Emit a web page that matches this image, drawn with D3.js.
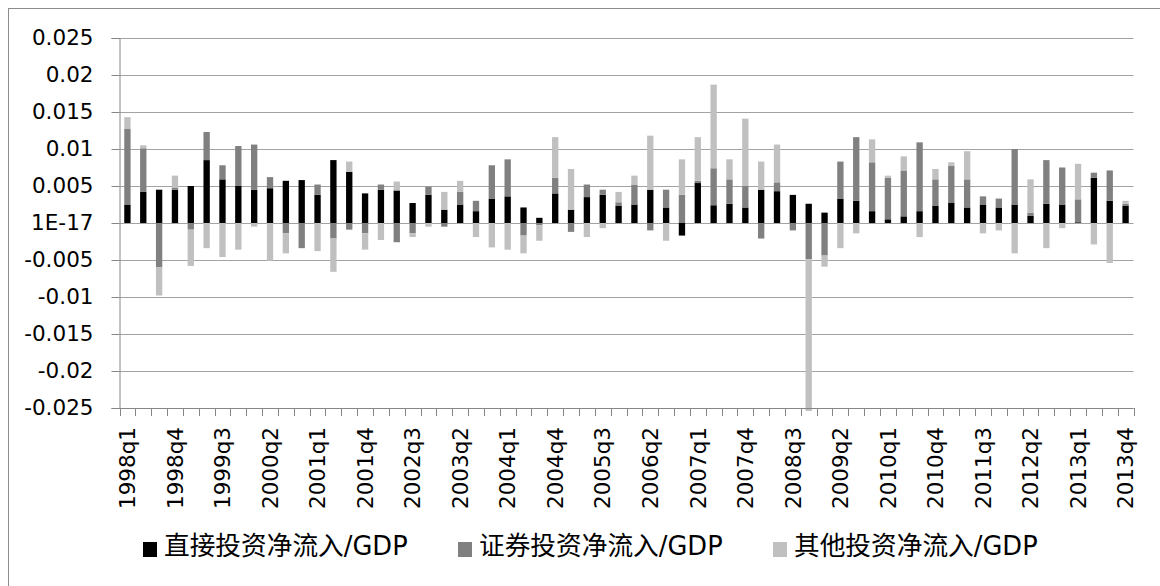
<!DOCTYPE html>
<html>
<head>
<meta charset="utf-8">
<script src="https://cdn.jsdelivr.net/npm/d3@7"></script>
<style>
  body { margin: 0; background: #fff; }
  svg { display: block; }
</style>
</head>
<body>
<svg id="chart" width="1160" height="586"></svg>
<script>
// Quarterly categories 1998q1 .. 2013q4
const years = d3.range(1998, 2014);
const quarters = years.flatMap(y => [1, 2, 3, 4].map(q => `${y}q${q}`));

// Net inflows as a share of GDP
const direct = [
  0.0025, 0.0042, 0.0045, 0.0045, 0.0050, 0.0085, 0.0059, 0.0050, 0.0045,
  0.0047, 0.0057, 0.0058, 0.0038, 0.0085, 0.0069, 0.0040, 0.0045, 0.0044,
  0.0027, 0.0038, 0.0018, 0.0025, 0.0016, 0.0033, 0.0036, 0.0021, 0.0007,
  0.0040, 0.0018, 0.0035, 0.0038, 0.0023, 0.0025, 0.0045, 0.0021, -0.0017, 0.0054,
  0.0024, 0.0026, 0.0021, 0.0045, 0.0043, 0.0038, 0.0026, 0.0014, 0.0033,
  0.0030, 0.0016, 0.0005, 0.0009, 0.0016, 0.0023, 0.0027, 0.0021, 0.0025,
  0.0021, 0.0025, 0.0010, 0.0026, 0.0025, 0.0001, 0.0061, 0.0030, 0.0023
];
const securities = [
  0.0102, 0.0059, -0.0060, 0.0003, -0.0009, 0.0038, 0.0019, 0.0054, 0.0061,
  0.0015, -0.0014, -0.0034, 0.0014, -0.0021, -0.0009, -0.0014, 0.0007, -0.0026,
  -0.0014, 0.0011, -0.0005, 0.0017, 0.0014, 0.0045, 0.0050, -0.0017, -0.0003,
  0.0021, -0.0012, 0.0017, 0.0007, 0.0005, 0.0027, -0.0010, 0.0024, 0.0038, 0.0003,
  0.0050, 0.0033, 0.0029, -0.0021, 0.0012, -0.0010, -0.0049, -0.0044, 0.0050,
  0.0086, 0.0066, 0.0056, 0.0062, 0.0093, 0.0036, 0.0050, 0.0038, 0.0011,
  0.0012, 0.0075, 0.0004, 0.0059, 0.0050, 0.0031, 0.0007, 0.0041, 0.0003
];
const other = [
  0.0016, 0.0004, -0.0038, 0.0016, -0.0049, -0.0034, -0.0046, -0.0036, -0.0005,
  -0.0051, -0.0027, 0.0000, -0.0038, -0.0045, 0.0014, -0.0022, -0.0023, 0.0012,
  -0.0005, -0.0005, 0.0024, 0.0015, -0.0019, -0.0033, -0.0036, -0.0024, -0.0021,
  0.0055, 0.0055, -0.0019, -0.0007, 0.0014, 0.0012, 0.0073, -0.0024, 0.0048, 0.0059,
  0.0113, 0.0027, 0.0091, 0.0038, 0.0051, 0.0000, -0.0205, -0.0015, -0.0034,
  -0.0014, 0.0031, 0.0003, 0.0019, -0.0019, 0.0014, 0.0005, 0.0038, -0.0014,
  -0.0010, -0.0041, 0.0045, -0.0034, -0.0007, 0.0048, -0.0029, -0.0054, 0.0004
];

const seriesKeys = ["direct", "securities", "other"];
const seriesNames = ["直接投资净流入/GDP", "证券投资净流入/GDP", "其他投资净流入/GDP"];
const seriesColors = ["#000000", "#808080", "#c0c0c0"];

const yTickValues = [0.025, 0.02, 0.015, 0.01, 0.005, 0, -0.005, -0.01, -0.015, -0.02, -0.025];
const yTickLabels = ["0.025", "0.02", "0.015", "0.01", "0.005", "1E-17", "-0.005", "-0.01", "-0.015", "-0.02", "-0.025"];
const xLabelStep = 3;

const rows = quarters.map((q, i) => ({
  quarter: q, direct: direct[i], securities: securities[i], other: other[i]
}));

const svg = d3.select("#chart");
const plot = { left: 119.5, right: 1133.5, top: 38, bottom: 408 };
const axisFont = "'DejaVu Sans', sans-serif";

// outer frame
svg.append("rect")
  .attr("x", 8.5).attr("y", 8.5)
  .attr("width", 1170).attr("height", 600)
  .attr("fill", "none").attr("stroke", "#8c8c8c").attr("stroke-width", 1);

const x = d3.scaleBand()
  .domain(quarters)
  .range([plot.left, plot.right])
  .paddingInner(0.6)
  .paddingOuter(0.3);

const y = d3.scaleLinear()
  .domain([-0.025, 0.025])
  .range([plot.bottom, plot.top]);

// horizontal gridlines
svg.append("g")
  .selectAll("line")
  .data(yTickValues)
  .join("line")
  .attr("x1", plot.left).attr("x2", plot.right)
  .attr("y1", d => Math.round(y(d)) + 0.5).attr("y2", d => Math.round(y(d)) + 0.5)
  .attr("stroke", "#a3a3a3").attr("stroke-width", 1.2);

// stacked bars: positives build upward, negatives downward
const stacked = d3.stack()
  .keys(seriesKeys)
  .offset(d3.stackOffsetDiverging)(rows);

svg.append("g")
  .selectAll("g")
  .data(stacked)
  .join("g")
  .attr("fill", (d, i) => seriesColors[i])
  .selectAll("rect")
  .data(d => d)
  .join("rect")
  .attr("x", d => x(d.data.quarter))
  .attr("width", x.bandwidth())
  .attr("y", d => y(Math.max(d[0], d[1])))
  .attr("height", d => Math.abs(y(d[0]) - y(d[1])));

// value axis
const yAxis = d3.axisLeft(y)
  .tickValues(yTickValues)
  .tickFormat((d, i) => yTickLabels[i])
  .tickSize(8)
  .tickPadding(18);

const yAxisG = svg.append("g")
  .attr("transform", `translate(${plot.left},0)`)
  .call(yAxis);
yAxisG.select(".domain").attr("stroke", "#868686");
yAxisG.selectAll(".tick line").attr("stroke", "#868686");
yAxisG.selectAll(".tick text")
  .attr("fill", "#000")
  .style("font-family", axisFont)
  .style("font-size", "21.5px");

// category axis along the bottom
const step = x.step();
const boundaries = quarters.map(q => x(q) + x.bandwidth() / 2 - step / 2).concat([plot.right]);
const xAxisG = svg.append("g");
xAxisG.append("line")
  .attr("x1", plot.left).attr("x2", plot.right)
  .attr("y1", plot.bottom + 0.5).attr("y2", plot.bottom + 0.5)
  .attr("stroke", "#868686");
xAxisG.selectAll("line.tick")
  .data(boundaries)
  .join("line")
  .attr("class", "tick")
  .attr("x1", d => Math.round(d) + 0.5).attr("x2", d => Math.round(d) + 0.5)
  .attr("y1", plot.bottom).attr("y2", plot.bottom + 8)
  .attr("stroke", "#868686");
xAxisG.selectAll("text")
  .data(quarters.filter((q, i) => i % xLabelStep === 0))
  .join("text")
  .attr("transform", d => `translate(${x(d) + x.bandwidth() / 2},427) rotate(-90)`)
  .attr("text-anchor", "end")
  .attr("dy", "0.36em")
  .attr("fill", "#000")
  .style("font-family", axisFont)
  .style("font-size", "21.5px")
  .text(d => d);

// legend
const legendX = [143, 458, 773];
const legend = svg.append("g")
  .selectAll("g")
  .data(seriesNames)
  .join("g")
  .attr("transform", (d, i) => `translate(${legendX[i]},0)`);
legend.append("rect")
  .attr("x", 0).attr("y", 542)
  .attr("width", 14).attr("height", 15)
  .attr("fill", (d, i) => seriesColors[i]);
legend.append("text")
  .attr("x", 21).attr("y", 555)
  .attr("fill", "#000")
  .style("font-family", "'DejaVu Sans', 'Noto Sans CJK SC', sans-serif")
  .style("font-size", "25.7px")
  .text(d => d);
</script>
</body>
</html>
